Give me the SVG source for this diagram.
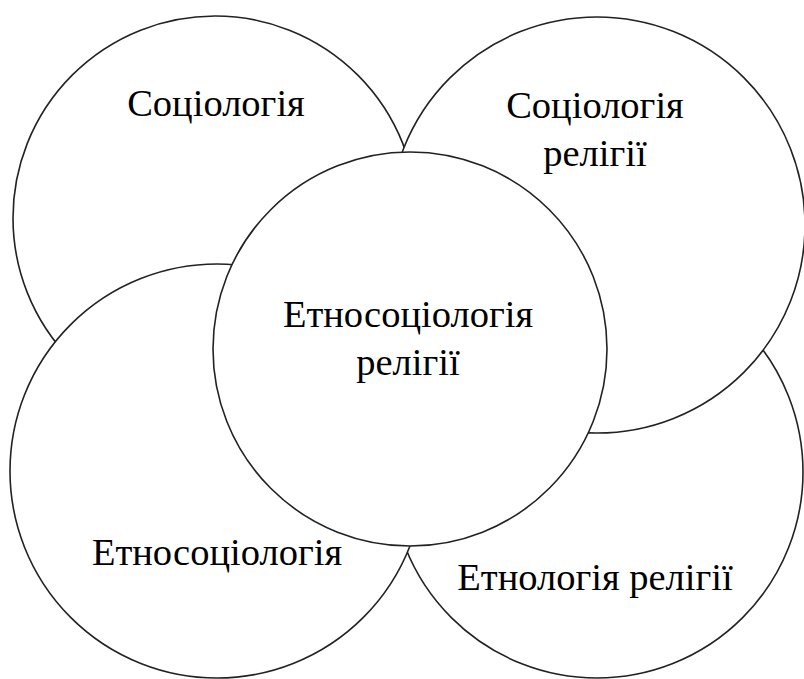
<svg xmlns="http://www.w3.org/2000/svg" width="804" height="679" viewBox="0 0 804 679">
<style>
.c{fill:#fff;stroke:#222;stroke-width:1.6}
.t{font-family:'Liberation Serif','DejaVu Serif',serif;font-size:38.5px;fill:#000;text-anchor:middle}
</style>
<rect width="804" height="679" fill="#fff"/>
<g id="sociology"><circle class="c" cx="215" cy="218" r="202"/><text class="t" x="216" y="116">Соціологія</text></g>
<g id="ethnology-religion"><circle class="c" cx="597" cy="472" r="206"/><text class="t" x="595" y="590">Етнологія релігії</text></g>
<g id="ethnosociology"><circle class="c" cx="217" cy="471" r="207"/><text class="t" x="217" y="565">Етносоціологія</text></g>
<g id="sociology-religion"><circle class="c" cx="597" cy="225" r="208"/><text class="t" x="595" y="118">Соціологія</text><text class="t" x="595" y="166">релігії</text></g>
<g id="ethnosociology-religion"><circle class="c" cx="410" cy="349" r="197"/><text class="t" x="408" y="327">Етносоціологія</text><text class="t" x="408" y="375">релігії</text></g>
<g id="connectors"/>
</svg>
